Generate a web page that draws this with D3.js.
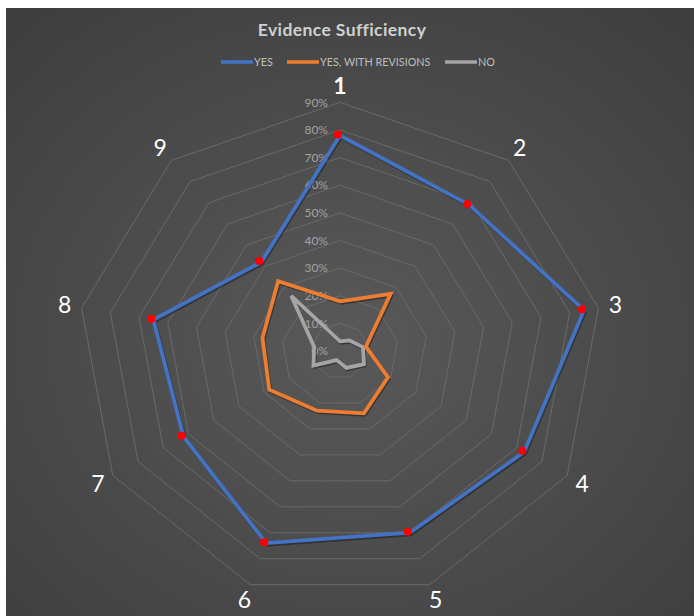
<!DOCTYPE html>
<html>
<head>
<meta charset="utf-8">
<script src="https://cdn.jsdelivr.net/npm/d3@7"></script>
<style>
  body { margin: 0; background: #ffffff; }
  svg { display: block; }
</style>
</head>
<body>
<div id="chart"></div>
<script>
// chart values
var axes = ["1", "2", "3", "4", "5", "6", "7", "8", "9"];
var yesVals = [78, 69, 85, 73, 70, 74, 62, 65, 42];
var revVals = [18, 27, 9, 19, 24, 23, 28, 27, 33];
var noVals = [3.5, 5, 8, 9.5, 6.5, 3.5, 10.5, 9, 26];
var tickVals = [0, 10, 20, 30, 40, 50, 60, 70, 80, 90];
var seriesNames = ["YES", "YES, WITH REVISIONS", "NO"];
var seriesColors = ["#4472C4", "#ED7D31", "#A5A5A5"];

var width = 694, height = 616;
var cx = 340, cy = 351;
var sx = 1.055; // picture is a bit wider than tall

var svg = d3.select("#chart").append("svg")
    .attr("width", width)
    .attr("height", height);

// background with soft radial shading
var defs = svg.append("defs");
var grad = defs.append("radialGradient")
    .attr("id", "bg")
    .attr("cx", "50%").attr("cy", "55%").attr("r", "70%");
grad.append("stop").attr("offset", "0%").attr("stop-color", "#595959");
grad.append("stop").attr("offset", "100%").attr("stop-color", "#3f3f3f");

svg.append("rect")
    .attr("x", 6).attr("y", 8)
    .attr("width", width - 6).attr("height", height - 8)
    .attr("fill", "url(#bg)");

var r = d3.scaleLinear().domain([0, 90]).range([0, 248.7]);
var angle = d3.scaleLinear().domain([0, axes.length]).range([0, 2 * Math.PI]);

function px(i, v) { return cx + sx * r(v) * Math.sin(angle(i)); }
function py(i, v) { return cy - r(v) * Math.cos(angle(i)); }

var line = d3.line()
    .x(function (d) { return px(d.i, d.v); })
    .y(function (d) { return py(d.i, d.v); })
    .curve(d3.curveLinearClosed);

function toPoints(vals) {
    return vals.map(function (v, i) { return {i: i, v: v}; });
}

// grid rings
svg.append("g")
    .selectAll("path")
    .data(tickVals.slice(1))
    .enter()
    .append("path")
    .attr("d", function (t) { return line(toPoints(axes.map(function () { return t; }))); })
    .attr("fill", "none")
    .attr("stroke", "#6a6a6a")
    .attr("stroke-width", 1);

// tick labels along axis 1
svg.append("g")
    .selectAll("text")
    .data(tickVals)
    .enter()
    .append("text")
    .attr("x", cx - 12)
    .attr("y", function (t) { return cy - r(t); })
    .attr("dy", "0.35em")
    .attr("text-anchor", "end")
    .attr("font-family", "Lato, sans-serif")
    .attr("font-size", 12)
    .attr("fill", "#a3a3a3")
    .text(function (t) { return t + "%"; });

// series lines
var allVals = [yesVals, revVals, noVals];
var series = svg.append("g");
[2, 1, 0].forEach(function (k) {
    series.append("path")
        .attr("d", line(toPoints(allVals[k])))
        .attr("fill", "none")
        .attr("stroke", "rgba(0,0,0,0.35)")
        .attr("stroke-width", 3.8)
        .attr("stroke-linejoin", "round")
        .attr("transform", "translate(1,1.5)");
    series.append("path")
        .attr("d", line(toPoints(allVals[k])))
        .attr("fill", "none")
        .attr("stroke", seriesColors[k])
        .attr("stroke-width", 3.8)
        .attr("stroke-linejoin", "miter");
});

// red markers on the YES points
svg.append("g")
    .selectAll("circle")
    .data(toPoints(yesVals))
    .enter()
    .append("circle")
    .attr("cx", function (d) { return px(d.i, d.v) - 2; })
    .attr("cy", function (d) { return py(d.i, d.v) - 1; })
    .attr("r", 4)
    .attr("fill", "#ff0000");

// category labels
svg.append("g")
    .selectAll("text")
    .data(axes)
    .enter()
    .append("text")
    .attr("x", function (d, i) { return cx + sx * 265 * Math.sin(angle(i)); })
    .attr("y", function (d, i) { return cy - 265 * Math.cos(angle(i)); })
    .attr("dy", "0.36em")
    .attr("text-anchor", "middle")
    .attr("font-family", "Lato, sans-serif")
    .attr("font-size", 23)
    .attr("font-weight", function (d, i) { return i === 0 ? "bold" : "normal"; })
    .attr("fill", "#ffffff")
    .text(function (d) { return d; });

// title
svg.append("text")
    .attr("x", 342)
    .attr("y", 36)
    .attr("text-anchor", "middle")
    .attr("font-family", "Lato, sans-serif")
    .attr("font-size", 17.5)
    .attr("font-weight", "bold")
    .attr("letter-spacing", 0.4)
    .attr("fill", "#d0d0d0")
    .text("Evidence Sufficiency");

// legend
var legendX = [221, 287, 445];
var legend = svg.append("g");
seriesNames.forEach(function (name, k) {
    legend.append("line")
        .attr("x1", legendX[k]).attr("x2", legendX[k] + 32)
        .attr("y1", 62).attr("y2", 62)
        .attr("stroke", seriesColors[k])
        .attr("stroke-width", 3.5);
    legend.append("text")
        .attr("x", legendX[k] + 33)
        .attr("y", 62)
        .attr("dy", "0.35em")
        .attr("font-family", "Lato, sans-serif")
        .attr("font-size", 10.8)
        .attr("fill", "#bfbfbf")
        .text(name);
});
</script>
</body>
</html>
